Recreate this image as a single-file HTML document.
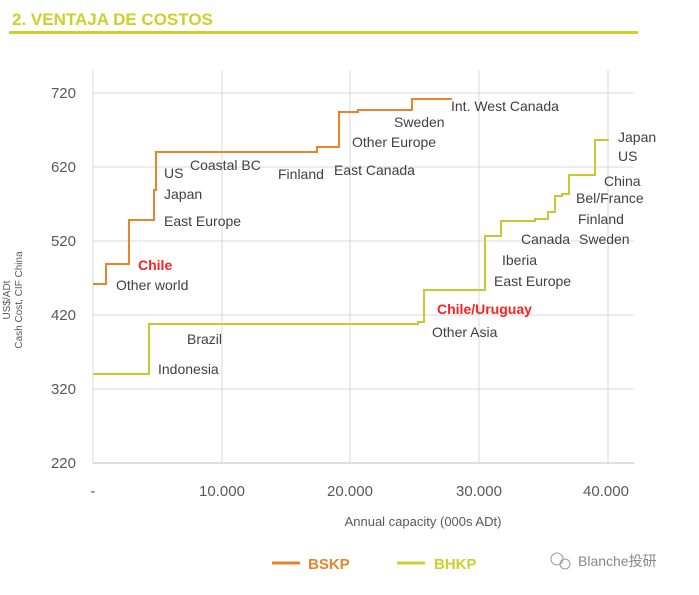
<!DOCTYPE html>
<html><head><meta charset="utf-8"><style>
body{margin:0;background:#fff;width:699px;height:590px;overflow:hidden;font-family:"Liberation Sans","Noto Sans CJK SC",sans-serif}
</style></head><body>
<svg width="699" height="590" xmlns="http://www.w3.org/2000/svg" font-family="Liberation Sans, Noto Sans CJK SC, sans-serif">
<text x="12" y="25" font-size="17" font-weight="bold" fill="#cfcf2a">2. VENTAJA DE COSTOS</text>
<rect x="9" y="31" width="629" height="3" fill="#cfcf2a"/>
<g stroke="#d9d9d9" stroke-width="1">
<line x1="93" y1="93" x2="634" y2="93"/><line x1="93" y1="167" x2="634" y2="167"/>
<line x1="93" y1="241" x2="634" y2="241"/><line x1="93" y1="315" x2="634" y2="315"/>
<line x1="93" y1="389" x2="634" y2="389"/>
<line x1="222" y1="70" x2="222" y2="463"/><line x1="350" y1="70" x2="350" y2="463"/>
<line x1="479" y1="70" x2="479" y2="463"/><line x1="608" y1="70" x2="608" y2="463"/>
<line x1="93" y1="70" x2="93" y2="463"/>
</g>
<line x1="93" y1="463" x2="634" y2="463" stroke="#bfbfbf"/>
<g font-size="15" fill="#595959" text-anchor="end">
<text x="76" y="98">720</text><text x="76" y="172">620</text><text x="76" y="246">520</text>
<text x="76" y="320">420</text><text x="76" y="394">320</text><text x="76" y="468">220</text>
</g>
<g font-size="15" fill="#595959" text-anchor="middle">
<text x="93" y="496">-</text><text x="222" y="496">10.000</text><text x="350" y="496">20.000</text>
<text x="479" y="496">30.000</text><text x="606" y="496">40.000</text>
</g>
<text x="423" y="526" font-size="13" fill="#595959" text-anchor="middle">Annual capacity (000s ADt)</text>
<text transform="translate(10,300) rotate(-90)" font-size="10" fill="#595959" text-anchor="middle">US$/ADt</text>
<text transform="translate(22,300) rotate(-90)" font-size="10" fill="#595959" text-anchor="middle">Cash Cost, CIF China</text>
<polyline fill="none" stroke="#e8842a" stroke-width="2" points="93,284 106,284 106,264 129,264 129,220 154,220 154,190 156,190 156,152 317,152 317,147 339,147 339,112 358,112 358,110 412,110 412,99 452,99"/>
<polyline fill="none" stroke="#c8c832" stroke-width="2" points="93,374 149,374 149,324 418,324 418,322 424,322 424,290 485,290 485,236 501,236 501,221 535,221 535,219 548,219 548,212 555,212 555,196 562,196 562,194 569,194 569,175 595,175 595,140 609,140"/>
<g font-size="14" fill="#404040">
<text x="116" y="290">Other world</text>
<text x="164" y="226">East Europe</text><text x="164" y="199">Japan</text><text x="164" y="178">US</text>
<text x="190" y="170">Coastal BC</text><text x="278" y="179">Finland</text><text x="334" y="175">East Canada</text>
<text x="352" y="147">Other Europe</text><text x="394" y="127">Sweden</text><text x="451" y="111">Int. West Canada</text>
<text x="187" y="344">Brazil</text><text x="158" y="374">Indonesia</text>
<text x="432" y="337">Other Asia</text><text x="494" y="286">East Europe</text><text x="502" y="265">Iberia</text>
<text x="521" y="244">Canada</text><text x="579" y="244">Sweden</text><text x="578" y="224">Finland</text>
<text x="576" y="203">Bel/France</text><text x="604" y="186">China</text><text x="618" y="161">US</text><text x="618" y="142">Japan</text>
</g>
<text x="138" y="270" font-size="14" font-weight="bold" fill="#ff2020">Chile</text>
<text x="437" y="314" font-size="14" font-weight="bold" fill="#ff2020">Chile/Uruguay</text>
<line x1="272" y1="563" x2="300" y2="563" stroke="#e8842a" stroke-width="3"/>
<text x="308" y="569" font-size="15" font-weight="bold" fill="#e8842a">BSKP</text>
<line x1="397" y1="563" x2="425" y2="563" stroke="#cfcf2a" stroke-width="3"/>
<text x="434" y="569" font-size="15" font-weight="bold" fill="#cfcf2a">BHKP</text>
<text x="578" y="566" font-size="14" fill="#888">Blanche投研</text>
<circle cx="557" cy="559" r="6" fill="none" stroke="#999"/><circle cx="565" cy="564" r="5" fill="none" stroke="#999"/>
</svg>
</body></html>
